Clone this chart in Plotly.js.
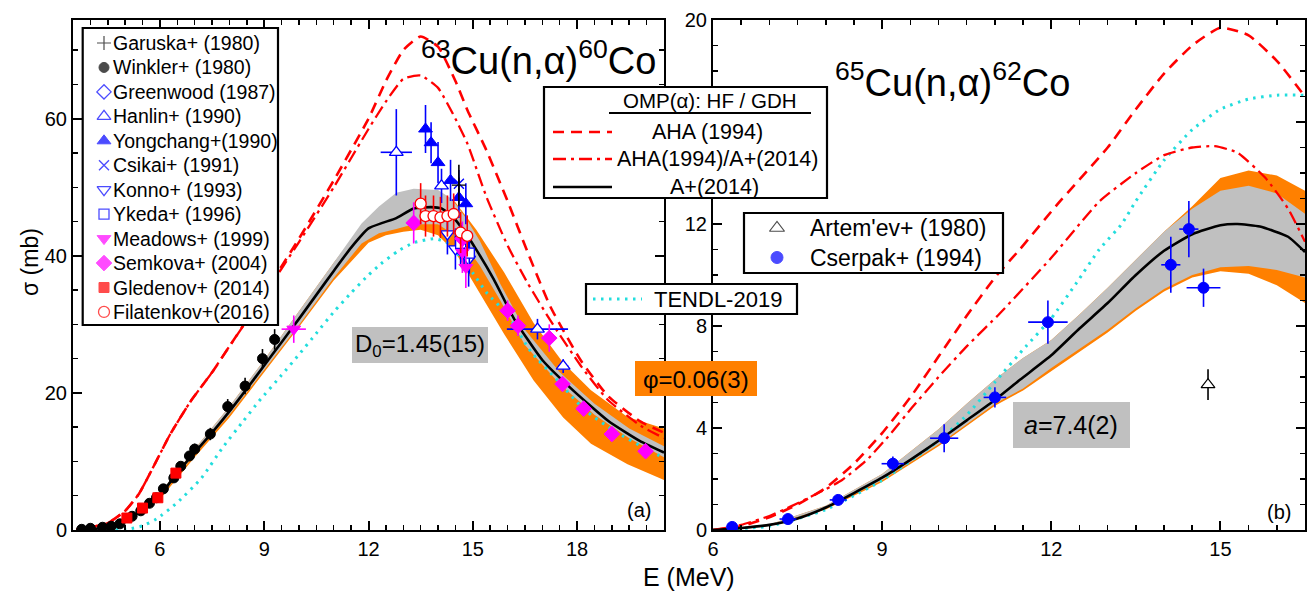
<!DOCTYPE html>
<html><head><meta charset="utf-8">
<script src="https://cdn.plot.ly/plotly-3.0.1.min.js"></script>
<style>html,body{margin:0;padding:0;background:#fff}#chart{width:1307px;height:591px}</style>
</head><body><div id="chart"></div>
<script>
// ================= LEFT PANEL : 63Cu(n,a)60Co =================
// A+(2014) calculation (black)
const cu63AE = [3.6,4.0,4.5,5.0,5.5,6.0,6.5,7.0,7.5,8.0,8.5,9.0,9.5,10.0,10.5,11.0,11.5,12.0,12.4,12.8,13.3,13.8,14.1,14.4,14.75,15.1,15.6,16.2,17.0,17.9,18.9,19.8,20.5];
const cu63AS = [0,0.1,0.45,1.3,2.9,5.0,8.4,11.3,14.2,17.3,20.6,24.0,27.4,30.8,34.3,37.8,41.2,44.0,44.8,45.5,46.9,47.1,46.9,45.8,43.6,40.9,36.6,30.7,24.8,20.3,15.9,13.0,11.3];
// grey band (D0 uncertainty)
const cu63GrayE = [3.6,5.0,6.0,7.0,8.0,9.0,10.0,11.0,11.8,12.3,12.8,13.3,14.0,14.4,14.8,15.2,15.8,16.5,17.5,18.5,19.5,20.5];
const cu63GrayU = [0,1.4,5.3,11.8,18.0,24.8,31.9,39.0,44.7,47.2,49.2,49.8,49.6,48.3,45.5,42.2,35.8,29.2,23.0,18.4,14.8,12.2];
const cu63GrayL = [0,1.2,4.8,11.0,16.8,23.3,29.9,36.8,41.8,43.3,43.9,44.6,44.6,43.3,41.4,38.6,33.4,27.0,21.3,16.8,13.4,10.6];
// orange band (phi uncertainty)
const cu63OrE = [3.6,5.0,6.0,7.0,8.0,9.0,10.0,11.0,12.0,12.5,13.0,13.5,14.0,14.5,15.1,15.9,16.75,17.6,18.4,19.45,20.5];
const cu63OrU = [0,1.4,5.3,11.8,18.0,24.8,31.9,39.0,45.5,47.8,49.0,49.5,49.3,47.8,43.8,37.6,30.2,24.4,20.4,16.5,14.8];
const cu63OrL = [0,1.0,4.5,10.6,16.4,23.0,29.6,36.4,41.9,43.0,43.5,43.8,43.0,40.5,35.5,28.6,21.8,16.4,12.6,9.6,7.3];
// TENDL-2019
const cu63TE = [4.5,5.1,5.5,5.9,6.5,7.2,7.8,8.4,8.85,9.5,10.0,10.5,11.0,11.5,12.0,12.35,12.85,13.3,13.9,14.3,14.65,15.0,15.4,16.0,16.66,17.44,18.2,19.05,20.0,20.5];
const cu63TS = [0,0.15,0.6,1.6,4.0,7.6,12.0,15.9,18.8,22.6,25.6,28.7,31.8,34.6,37.2,38.8,40.7,41.9,42.5,41.8,39.7,37.5,34.6,31.4,26.1,21.8,17.6,14.5,11.8,10.5];
// AHA (1994) dashed
const cu63DE = [3.6,4.0,4.5,5.0,5.4,5.8,6.3,6.9,7.5,8.0,9.0,10.0,11.0,12.0,12.5,13.0,13.5,14.0,14.5,14.85,15.4,16.0,16.58,17.24,18.1,18.88,19.83,20.5];
const cu63DS = [0.1,0.4,1.0,2.8,5.3,9.1,14.0,18.9,23.0,26.8,34.5,42.5,51.0,60.0,65.5,70.0,72.0,70.5,65.5,61.2,55.3,48.0,40.5,32.5,24.8,19.6,15.8,14.2];
// AHA(1994)/A+(2014) dash-dot
const cu63DDE = [3.6,4.0,4.5,5.0,5.4,5.8,6.3,6.9,7.5,8.0,9.0,10.0,11.0,12.0,12.5,13.0,13.5,14.0,14.5,14.85,15.4,16.0,16.58,17.24,18.1,18.88,19.83,20.5];
const cu63DDS = [0.1,0.4,1.0,2.8,5.3,9.1,14.0,18.9,23.0,26.8,34.3,42.0,50.0,58.5,62.5,65.8,66.3,64.5,60.0,56.3,48.5,41.5,36.0,30.5,24.0,19.0,15.2,13.4];

// experimental data (E MeV, sigma mb, d-sigma, d-E)
const garuskaE = [14.6], garuskaS = [50.3], garuskaDS = [3.0], garuskaDE = [0];
const winklerE = [3.75,4.0,4.35,4.6,4.85,5.2,5.45,5.7,5.9,6.1,6.4,6.6,6.85,7.0,7.45,7.95,8.45,8.95,9.3];
const winklerS = [0.1,0.25,0.4,0.55,0.9,2.0,2.8,3.9,4.7,6.0,7.6,9.3,10.8,11.8,14.0,18.0,21.0,25.0,27.8];
const winklerDS = [0.2,0.2,0.2,0.3,0.3,0.3,0.4,0.4,0.4,0.5,0.5,0.6,0.7,0.8,0.9,1.1,1.2,1.4,1.5];
const winklerDE = [0,0,0,0,0,0,0,0,0,0,0,0,0,0,0,0,0,0,0];
const greenwoodE = [14.75], greenwoodS = [40.5], greenwoodDS = [2.0], greenwoodDE = [0];
const hanlinE = [12.8,14.1,16.86,17.6], hanlinS = [55.1,50.2,29.3,23.9], hanlinDS = [6.3,2.5,1.5,1.0], hanlinDE = [0.45,0,0.88,0.15];
const yongchangE = [13.64,13.8,14.0,14.36,14.6,14.8], yongchangS = [58.5,56.5,53.6,51.0,48.5,47.6], yongchangDS = [3.5,3.0,3.0,3.0,3.0,3.0], yongchangDE = [0,0,0,0,0,0];
const csikaiE = [14.6], csikaiS = [50.5], csikaiDS = [2.0], csikaiDE = [0];
const konnoE = [14.27,14.5,14.88], konnoS = [43.2,41.0,39.5], konnoDS = [3,3,4], konnoDE = [0,0,0];
const ykedaE = [14.65,14.9], ykedaS = [41.8,40.4], ykedaDS = [3,3], ykedaDE = [0,0];
const meadowsE = [9.85,14.7,14.8], meadowsS = [29.3,40.5,38.3], meadowsDS = [2,3,3], meadowsDE = [0.35,0,0];
const semkovaE = [13.3,14.7,16.0,16.3,17.2,17.58,18.19,19.0,19.97], semkovaS = [44.8,42.5,32.0,29.8,28.0,21.3,17.7,14.0,11.5];
const semkovaDS = [3,2.5,1.5,1.5,2,1,1,0.8,0.8], semkovaDE = [0,0,0,0,0,0,0,0,0];
const gledenovE = [5.05,5.5,5.94,6.46], gledenovS = [1.75,3.2,4.7,8.3], gledenovDS = [0.3,0.4,0.5,0.6], gledenovDE = [0,0,0,0];
const filatenkovE = [13.5,13.64,13.87,14.07,14.27,14.45,14.65,14.84], filatenkovS = [47.6,45.8,45.8,45.6,45.8,46.1,43.4,42.9];
const filatenkovDS = [3,3,3,3,3,3,3,3], filatenkovDE = [0,0,0,0,0,0,0,0];

// ================= RIGHT PANEL : 65Cu(n,a)62Co =================
const cu65AE = [6.0,6.5,7.0,7.5,8.0,8.5,9.0,9.5,10.0,10.5,11.0,11.45,12.0,12.5,13.0,13.5,14.0,14.5,15.0,15.3,15.7,16.2,16.5];
const cu65AS = [0,0.08,0.2,0.45,0.88,1.45,2.05,2.75,3.5,4.3,5.1,5.9,6.85,7.9,8.9,10.0,10.95,11.6,11.95,12.0,11.9,11.5,10.9];
const cu65BandE = [6.0,7.0,8.0,9.0,10.0,10.5,11.0,11.5,12.0,12.5,13.0,13.5,14.0,14.5,15.0,15.5,16.0,16.5];
const cu65GrayU = [0,0.22,0.95,2.2,3.95,4.95,5.9,6.75,7.45,8.45,9.5,10.6,11.7,12.6,13.3,13.5,13.2,12.4];
const cu65GrayL = [0,0.18,0.85,1.95,3.35,4.15,4.95,5.55,6.35,7.1,7.85,8.7,9.45,10.0,10.3,10.35,10.2,9.9];
const cu65OrU = [0,0.22,0.95,2.2,3.95,4.95,5.9,6.75,7.45,8.45,9.5,10.6,11.7,12.7,13.8,14.1,13.9,13.3];
const cu65OrL = [0,0.16,0.8,1.88,3.28,4.07,4.87,5.47,6.25,7.0,7.75,8.6,9.35,9.9,10.15,10.05,9.6,8.9];
const cu65TE = [6.0,7.0,8.0,9.0,10.0,10.5,11.0,11.55,12.0,12.45,12.85,13.25,13.5,14.0,14.5,15.0,15.5,16.0,16.5];
const cu65TS = [0,0.15,0.8,1.95,3.5,4.5,5.8,7.2,8.3,9.7,11.0,12.0,12.9,14.5,15.7,16.5,16.9,17.05,17.05];
const cu65DE = [6.0,6.5,7.0,7.5,8.0,8.5,9.0,9.5,10.0,10.5,11.0,11.44,12.1,13.0,13.5,14.0,14.5,15.0,15.5,16.0,16.5];
const cu65DS = [0,0.15,0.5,1.0,1.65,2.6,3.8,5.2,6.8,8.4,9.9,11.0,12.75,15.0,16.5,17.9,19.0,19.7,19.4,18.4,17.0];
const cu65DDE = [6.0,6.5,7.0,7.26,7.5,8.0,8.29,8.73,9.16,9.53,10.0,10.5,11.09,11.97,12.86,13.5,14.0,14.5,14.9,15.3,15.8,16.2,16.5];
const cu65DDS = [0,0.2,0.55,0.8,1.05,1.6,1.96,2.75,3.8,4.8,6.0,7.2,8.5,10.6,12.9,14.0,14.7,15.0,15.05,14.8,13.8,12.6,11.3];
const artemevE = [14.78], artemevS = [5.7], artemevDS = [0.6], artemevDE = [0];
const cserpakE = [6.34,7.33,8.22,9.19,10.1,11.0,11.94,14.12,14.44,14.7];
const cserpakS = [0.12,0.43,1.18,2.6,3.6,5.2,8.15,10.4,11.8,9.5];
const cserpakDS = [0.05,0.1,0.15,0.28,0.55,0.4,0.85,1.1,1.1,0.75];
const cserpakDE = [0.1,0.15,0.15,0.2,0.25,0.2,0.35,0.17,0.17,0.3];

// tick labels of the right-panel y axis (the "16" label is hidden behind the model legend)
const cu65YTickVals = [0,4,8,12,16,20];
const cu65YTickText = ['0','4','8','12','','20'];

// legend labels
const leftLegendLabels = ['Garuska+ (1980)','Winkler+ (1980)','Greenwood (1987)','Hanlin+ (1990)','Yongchang+(1990)','Csikai+ (1991)','Konno+ (1993)','Ykeda+ (1996)','Meadows+ (1999)','Semkova+ (2004)','Gledenov+ (2014)','Filatenkov+(2016)'];
const rightLegendLabels = ["Artem'ev+ (1980)", 'Cserpak+ (1994)'];
const modelLegendTitle = 'OMP(α): HF / GDH';
const modelLegendLabels = ['AHA (1994)','AHA(1994)/A+(2014)','A+(2014)'];
const tendlLabel = 'TENDL-2019';

// ================= BUILD =================
const W = 1307, H = 591;
const FONT = 'Liberation Sans, Arial, Helvetica, sans-serif';
const RED = '#ff0000', BLUE = '#0000ff', MAG = '#ff00ff', CYAN = '#22dddd', ORANGE = '#ff8000', GRAY = '#c0c0c0';
const DASH = '11px,7px', DASHDOT = '13px,5px,3px,5px', DOT = '2.5px,5.5px';

function band(xs, up, lo, color, xa, ya) {
  return {x: xs.concat(xs.slice().reverse()), y: up.concat(lo.slice().reverse()), type:'scatter', mode:'lines',
    fill:'toself', fillcolor: color, line:{width:0, color: color}, xaxis: xa, yaxis: ya, hoverinfo:'skip'};
}
function curve(xs, ys, color, width, dash, xa, ya) {
  return {x: xs, y: ys, type:'scatter', mode:'lines', xaxis: xa, yaxis: ya,
    line:{color: color, width: width, dash: dash, shape:'spline', smoothing:0.5}, hoverinfo:'skip'};
}
function points(xs, ys, dys, dxs, st, xa, ya) {
  return {x: xs, y: ys, type:'scatter', mode:'markers', xaxis: xa, yaxis: ya,
    marker:{symbol: st.symbol, size: st.size, color: st.fill, line:{color: st.color, width: st.lw}},
    error_y:{type:'data', array: dys, visible:true, color: st.color, thickness:1.6, width:0},
    error_x:{type:'data', array: dxs, visible:true, color: st.color, thickness:1.6, width:0},
    hoverinfo:'skip'};
}
const leftStyles = [
  {symbol:'cross-thin-open', size:10, fill:'black', color:'black', lw:1.2},
  {symbol:'circle', size:10, fill:'black', color:'black', lw:1},
  {symbol:'diamond', size:11, fill:'white', color:BLUE, lw:1.3},
  {symbol:'triangle-up', size:12, fill:'white', color:BLUE, lw:1.3},
  {symbol:'triangle-up', size:12, fill:BLUE, color:BLUE, lw:1},
  {symbol:'x-thin-open', size:10, fill:BLUE, color:BLUE, lw:1.4},
  {symbol:'triangle-down', size:12, fill:'white', color:BLUE, lw:1.3},
  {symbol:'square', size:10, fill:'white', color:BLUE, lw:1.3},
  {symbol:'triangle-down', size:12, fill:MAG, color:MAG, lw:1},
  {symbol:'diamond', size:12, fill:MAG, color:MAG, lw:1},
  {symbol:'square', size:10, fill:RED, color:RED, lw:1},
  {symbol:'circle', size:11, fill:'white', color:RED, lw:1.3}
];
const leftSets = [
  [garuskaE,garuskaS,garuskaDS,garuskaDE],[winklerE,winklerS,winklerDS,winklerDE],[greenwoodE,greenwoodS,greenwoodDS,greenwoodDE],
  [hanlinE,hanlinS,hanlinDS,hanlinDE],[yongchangE,yongchangS,yongchangDS,yongchangDE],[csikaiE,csikaiS,csikaiDS,csikaiDE],
  [konnoE,konnoS,konnoDS,konnoDE],[ykedaE,ykedaS,ykedaDS,ykedaDE],[meadowsE,meadowsS,meadowsDS,meadowsDE],
  [semkovaE,semkovaS,semkovaDS,semkovaDE],[gledenovE,gledenovS,gledenovDS,gledenovDE],[filatenkovE,filatenkovS,filatenkovDS,filatenkovDE]
];
const rightStyles = [
  {symbol:'triangle-up', size:12, fill:'white', color:'black', lw:1.2},
  {symbol:'circle', size:11, fill:BLUE, color:BLUE, lw:1}
];
const rightSets = [[artemevE,artemevS,artemevDS,artemevDE],[cserpakE,cserpakS,cserpakDS,cserpakDE]];

const traces = [];
traces.push(band(cu63OrE, cu63OrU, cu63OrL, ORANGE, 'x', 'y'));
traces.push(band(cu63GrayE, cu63GrayU, cu63GrayL, GRAY, 'x', 'y'));
traces.push(curve(cu63TE, cu63TS, CYAN, 3, DOT, 'x', 'y'));
traces.push(curve(cu63DE, cu63DS, RED, 2.6, DASH, 'x', 'y'));
traces.push(curve(cu63DDE, cu63DDS, RED, 2.3, DASHDOT, 'x', 'y'));
traces.push(curve(cu63AE, cu63AS, 'black', 2.6, 'solid', 'x', 'y'));
[1,10,2,3,4,5,6,7,0,8,9,11].forEach(i => {
  const s = leftSets[i];
  traces.push(points(s[0], s[1], s[2], s[3], leftStyles[i], 'x', 'y'));
});
traces.push(band(cu65BandE, cu65OrU, cu65OrL, ORANGE, 'x2', 'y2'));
traces.push(band(cu65BandE, cu65GrayU, cu65GrayL, GRAY, 'x2', 'y2'));
traces.push(curve(cu65TE, cu65TS, CYAN, 3, DOT, 'x2', 'y2'));
traces.push(curve(cu65DE, cu65DS, RED, 2.6, DASH, 'x2', 'y2'));
traces.push(curve(cu65DDE, cu65DDS, RED, 2.3, DASHDOT, 'x2', 'y2'));
traces.push(curve(cu65AE, cu65AS, 'black', 2.6, 'solid', 'x2', 'y2'));
rightSets.forEach((s, i) => traces.push(points(s[0], s[1], s[2], s[3], rightStyles[i], 'x2', 'y2')));

// legend symbol traces (drawn on a pixel overlay axis)
const LEG1 = {x0:82.7, x1:278, y0:28, y1:325, symX:104, textX:112, rowY0:43, rowDY:24.45};
const LEG2 = {x0:744, x1:1003, y0:213, y1:273, symX:777, textX:809, rowY0:228, rowDY:29.5};
traces.push({x: leftLegendLabels.map(() => LEG1.symX), y: leftLegendLabels.map((_, i) => LEG1.rowY0 + i*LEG1.rowDY),
  type:'scatter', mode:'markers', xaxis:'x3', yaxis:'y3', hoverinfo:'skip', cliponaxis:false,
  marker:{symbol: leftStyles.map(s => s.symbol), size: leftStyles.map(s => s.size), color: leftStyles.map(s => s.fill),
    line:{color: leftStyles.map(s => s.color), width: leftStyles.map(s => s.lw)}}});
traces.push({x: rightLegendLabels.map(() => LEG2.symX), y: rightLegendLabels.map((_, i) => LEG2.rowY0 + i*LEG2.rowDY),
  type:'scatter', mode:'markers', xaxis:'x3', yaxis:'y3', hoverinfo:'skip', cliponaxis:false,
  marker:{symbol: rightStyles.map(s => s.symbol), size: rightStyles.map(s => s.size + 1), color: rightStyles.map(s => s.fill),
    line:{color: rightStyles.map(s => s.color), width: rightStyles.map(s => s.lw)}}});

function axisX(px, range, dtick, mdt, anchor) {
  return {domain:[px[0]/W, px[1]/W], range: range, anchor: anchor, showline:true, linewidth:2, linecolor:'black', mirror:'allticks',
    ticks:'inside', ticklen:9, tickwidth:2, tickcolor:'black', tick0:0, dtick:dtick, showgrid:false, zeroline:false,
    tickfont:{size:20, family:FONT, color:'black'},
    minor:{ticks:'inside', ticklen:5, tickwidth:1.5, tickcolor:'black', tick0:0, dtick:mdt, showgrid:false}};
}
function axisY(py, range, dtick, mdt, anchor) {
  const a = axisX([0,1], range, dtick, mdt, anchor);
  a.domain = [1 - py[1]/H, 1 - py[0]/H];
  return a;
}

const shapes = [];
const ann = [];
function txt(x, y, text, size, opts) {
  ann.push(Object.assign({xref:'x3', yref:'y3', x:x, y:y, text:text, showarrow:false, xanchor:'center', yanchor:'middle',
    borderpad:0, font:{family:FONT, size:size, color:'black'}}, opts || {}));
}
function rect(x0, y0, x1, y1, fill, border, layer) {
  shapes.push({type:'rect', xref:'x3', yref:'y3', x0:x0, y0:y0, x1:x1, y1:y1, fillcolor:fill,
    line:{color: border || 'rgba(0,0,0,0)', width: border ? 2.2 : 0}, layer: layer});
}
function hline(x0, x1, y, color, width, dash) {
  shapes.push({type:'line', xref:'x3', yref:'y3', x0:x0, x1:x1, y0:y, y1:y, line:{color:color, width:width, dash:dash}, layer:'above'});
}

rect(LEG1.x0, LEG1.y0, LEG1.x1, LEG1.y1, 'white', 'black', 'below');
leftLegendLabels.forEach((t, i) => txt(LEG1.textX, LEG1.rowY0 + i*LEG1.rowDY, t, 19.5, {xanchor:'left'}));
rect(LEG2.x0, LEG2.y0, LEG2.x1, LEG2.y1, 'white', 'black', 'below');
rightLegendLabels.forEach((t, i) => txt(LEG2.textX, LEG2.rowY0 + i*LEG2.rowDY, t, 23, {xanchor:'left'}));
rect(544, 87, 827, 198, 'white', 'black', 'above');
txt(710, 100, modelLegendTitle, 20.5);
hline(609, 811, 113, 'black', 2, 'solid');
const modelRows = [132, 159, 187], modelCx = [707, 717, 714];
const modelDash = [DASH, DASHDOT, 'solid'], modelColor = [RED, RED, 'black'];
modelLegendLabels.forEach((t, i) => {
  hline(553, 612, modelRows[i], modelColor[i], 2.6, modelDash[i]);
  txt(modelCx[i], modelRows[i], t, 21.5);
});
rect(586, 284, 797, 314, 'white', 'black', 'above');
hline(593, 642, 299, CYAN, 3, DOT);
txt(653, 299, tendlLabel, 22, {xanchor:'left'});

rect(352, 327, 488, 363, GRAY, null, 'above');
txt(420, 345, 'D<sub>0</sub>=1.45(15)', 24);
rect(635, 361, 757, 396, ORANGE, null, 'above');
txt(696, 379, 'φ=0.06(3)', 24);
rect(1013, 402, 1130, 448, GRAY, null, 'above');
txt(1071, 425, '<i>a</i>=7.4(2)', 25);

txt(538, 58, '<sup>63</sup>Cu(n,α)<sup>60</sup>Co', 38);
txt(952, 80, '<sup>65</sup>Cu(n,α)<sup>62</sup>Co', 38);
txt(639, 510, '(a)', 20);
txt(1279, 512, '(b)', 20);
txt(689, 577, 'E (MeV)', 25);
txt(30, 262, 'σ (mb)', 23, {textangle:-90});

const yaxis2 = axisY([20,530], [0,20], 4, 1, 'x2');
yaxis2.tickmode = 'array';
yaxis2.tickvals = cu65YTickVals;
yaxis2.ticktext = cu65YTickText;

const layout = {
  width: W, height: H, margin:{l:0, r:0, t:0, b:0},
  paper_bgcolor:'white', plot_bgcolor:'rgba(0,0,0,0)', showlegend:false,
  font:{family:FONT, size:20, color:'black'},
  xaxis: axisX([73,664], [3.5,20.5], 3, 0.5, 'y'),
  yaxis: axisY([20,530], [0,74.4], 20, 5, 'x'),
  xaxis2: axisX([713,1305], [6,16.5], 3, 0.5, 'y2'),
  yaxis2: yaxis2,
  xaxis3: {domain:[0,1], range:[0,W], anchor:'y3', visible:false, fixedrange:true},
  yaxis3: {domain:[0,1], range:[H,0], anchor:'x3', visible:false, fixedrange:true},
  shapes: shapes, annotations: ann
};
Plotly.newPlot('chart', traces, layout, {staticPlot:true, displayModeBar:false});
</script>
</body></html>
